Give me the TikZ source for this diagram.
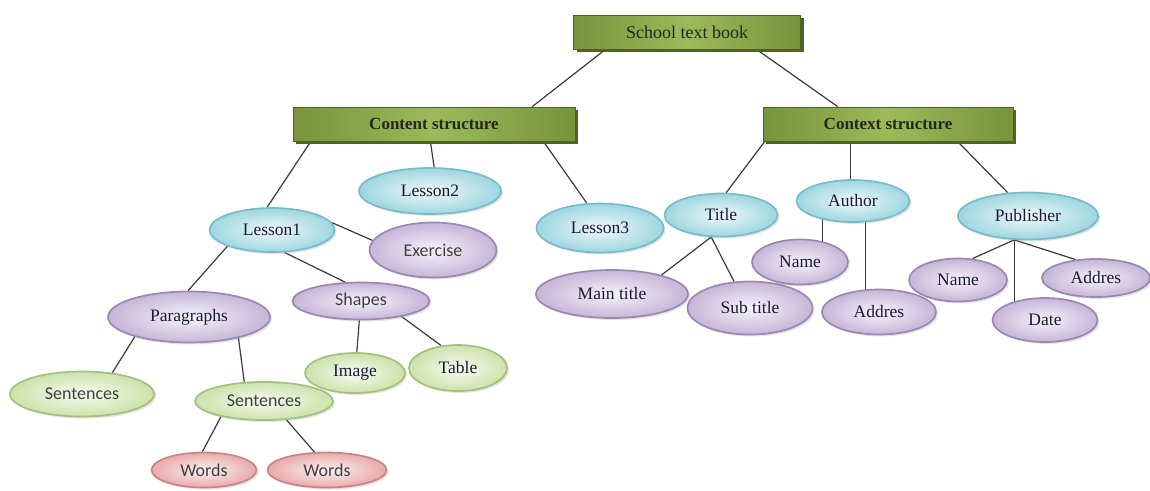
\documentclass[tikz,border=0pt]{standalone}
\usepackage{fontspec}
\setmainfont{Liberation Serif}
\newfontfamily\bubsans{Carlito}
\usetikzlibrary{shapes.geometric,shadows,backgrounds}

\definecolor{boxgreen}{HTML}{77933C}
\definecolor{boxlight}{HTML}{9BBB59}
\definecolor{boxdark}{HTML}{4F6228}
\definecolor{cyanfill}{HTML}{9ED6E0}
\definecolor{cyanline}{HTML}{78BCCA}
\definecolor{purplefill}{HTML}{C6B5D8}
\definecolor{purpleline}{HTML}{9C87B3}
\definecolor{greenfill}{HTML}{CCE2AA}
\definecolor{greenline}{HTML}{A2C07E}
\definecolor{redfill}{HTML}{E8AAAA}
\definecolor{redline}{HTML}{C98585}
\definecolor{linkgray}{HTML}{3A3A3A}
\definecolor{inktext}{HTML}{1A1A33}

\begin{document}
\begin{tikzpicture}[x=1pt,y=-1pt,
  box/.style={rectangle, draw=boxdark, line width=0.6pt, inner sep=0pt,
    left color=boxgreen, right color=boxgreen, middle color=boxlight,
    drop shadow={fill=boxdark, opacity=1, shadow xshift=3pt, shadow yshift=-3pt},
    text=black!85, minimum height=34},
  bub/.style={ellipse, inner sep=0pt, line width=1.7pt, text=inktext,
    drop shadow={opacity=0.22, shadow xshift=2pt, shadow yshift=-2pt},
    font=\fontsize{17.5}{19}\selectfont},
  sans/.style={font=\bubsans\fontsize{18}{20}\selectfont, text=black!75},
  cyanbub/.style={bub, draw=cyanline, inner color=cyanfill!15, outer color=cyanfill},
  purplebub/.style={bub, draw=purpleline, inner color=purplefill!15, outer color=purplefill},
  greenbub/.style={bub, draw=greenline, inner color=greenfill!15, outer color=greenfill},
  redbub/.style={bub, draw=redline, inner color=redfill!15, outer color=redfill},
  wh/.style 2 args={minimum width=#1, minimum height=#2},
  link/.style={draw=linkgray, line width=1.2pt}]

% Page size
\useasboundingbox (0,0) rectangle (1150,490);

% Top boxes
\node[box, minimum width=227, font=\fontsize{18}{20}\selectfont] (school) at (687,32) {School text book};
\node[box, minimum width=282, font=\bfseries\fontsize{17}{19}\selectfont] (content) at (434,124) {Content structure};
\node[box, minimum width=250, font=\bfseries\fontsize{17}{19}\selectfont] (context) at (888,124) {Context structure};

% Content side
\node[cyanbub, wh={125}{44}] (lessonA) at (272,230) {Lesson1};
\node[cyanbub, wh={142}{46}] (lessonB) at (430,191) {Lesson2};
\node[cyanbub, wh={127}{49}] (lessonC) at (600,228) {Lesson3};
\node[purplebub, sans, wh={127}{55}] (exercise) at (433,250) {Exercise};
\node[purplebub, wh={162}{51}] (para) at (189,317) {Paragraphs};
\node[purplebub, sans, wh={137}{37}] (shapes) at (361,301) {Shapes};
\node[greenbub, sans, wh={144}{45}] (sentA) at (82,394) {Sentences};
\node[greenbub, sans, wh={138}{38}] (sentB) at (264,401) {Sentences};
\node[greenbub, wh={100}{40}] (image) at (355,373) {Image};
\node[greenbub, wh={98}{46}] (table) at (458,368) {Table};
\node[redbub, sans, wh={105}{35}] (wordA) at (204,470) {Words};
\node[redbub, sans, wh={119}{35}] (wordB) at (327,470) {Words};

% Context side
\node[cyanbub, wh={113}{43}] (title) at (721,215) {Title};
\node[cyanbub, wh={113}{42}] (author) at (853,201) {Author};
\node[cyanbub, wh={140}{47}] (publisher) at (1028,216) {Publisher};
\node[purplebub, wh={152}{48}] (maintitle) at (612,294) {Main title};
\node[purplebub, wh={125}{53}] (subtitle) at (750,308) {Sub title};
\node[purplebub, wh={96}{45}] (nameA) at (800,262) {Name};
\node[purplebub, wh={114}{45}] (addresA) at (879,312) {Addres};
\node[purplebub, wh={98}{43}] (nameB) at (958,280) {Name};
\node[purplebub, wh={105}{44}] (dateB) at (1045,320) {Date};
\node[purplebub, wh={108}{38}] (addresB) at (1096,278) {Addres};

% Connectors, behind the nodes
\begin{pgfonlayer}{background}
\draw[link] (school.192) -- (content.10);
\draw[link] (school.346) -- (context.161);

\draw[link] (content.188) -- (lessonA.102);
\draw[link] (content.258) -- (lessonB.80);
\draw[link] (content.351) -- (lessonC.118);
\draw[link] (lessonA.7) -- (exercise.171);
\draw[link] (lessonA.200) -- (para.92);
\draw[link] (lessonA.299) -- (shapes.130);
\draw[link] (para.200) -- (sentA.35);
\draw[link] (para.337) -- (sentB.136);
\draw[link] (shapes.265) -- (image.85);
\draw[link] (shapes.339) -- (table.127);
\draw[link] (sentB.200) -- (wordA.95);
\draw[link] (sentB.320) -- (wordB.125);

\draw[link] (context.188) -- (title.77);
\draw[link] (context.south -| author.97) -- (author.97);
\draw[link] (context.346) -- (publisher.131);
\draw[link] (title.246) -- (maintitle.21);
\draw[link] (title.246) -- (subtitle.121);
\draw[link] (author.211) -- (author.211 |- nameA.center);
\draw[link] (author.301) -- (author.301 |- addresA.center);
\draw[link] (publisher.240) -- (nameB.56);
\draw[link] (publisher.240) -- (publisher.240 |- dateB.center);
\draw[link] (publisher.240) -- (addresB.138);
\end{pgfonlayer}

\end{tikzpicture}
\end{document}
